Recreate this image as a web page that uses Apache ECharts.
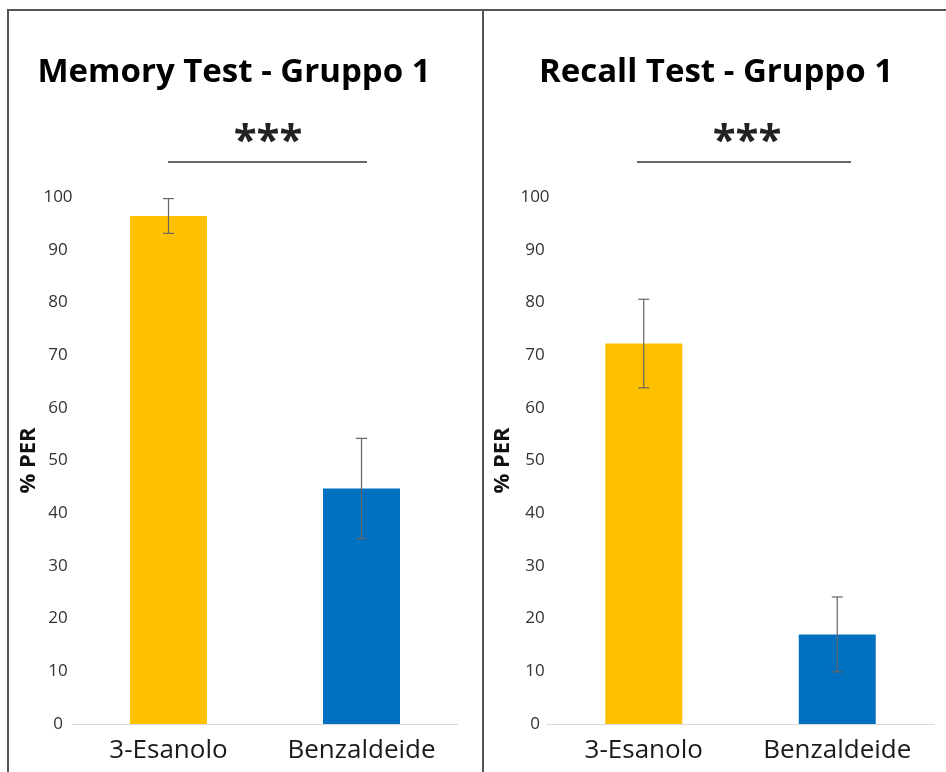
<!DOCTYPE html>
<html>
<head>
<meta charset="utf-8">
<script src="https://cdn.jsdelivr.net/npm/echarts@6/dist/echarts.min.js"></script>
<style>
  html, body { margin: 0; padding: 0; background: #fff; }
  #chart { width: 946px; height: 772px; }
</style>
</head>
<body>
<div id="chart"></div>
<script>
// Odour categories shared by both panels
const categories = ['3-Esanolo', 'Benzaldeide'];
const barColors = ['#FFC000', '#0070C0'];

// Memory test: mean % PER and error
const memoryMeans = [96.4, 44.7];
const memoryErrors = [3.3, 9.5];

// Recall test: mean % PER and error
const recallMeans = [72.2, 17.0];
const recallErrors = [8.4, 7.1];

const yTicks = { min: 0, max: 100, interval: 10 };

const panelTitles = ['Memory Test - Gruppo 1', 'Recall Test - Gruppo 1'];
const significance = ['***', '***'];

const FONT = '"Open Sans", "Noto Sans", sans-serif';

const chart = echarts.init(document.getElementById('chart'), null, { renderer: 'canvas' });

function makeYAxis(gridIndex, margin, nameGap) {
  return {
    type: 'value', gridIndex,
    min: yTicks.min, max: yTicks.max, interval: yTicks.interval,
    name: '% PER', nameLocation: 'middle', nameRotate: 90, nameGap,
    nameTextStyle: { fontFamily: FONT, fontWeight: 'bold', fontSize: 22, color: '#111' },
    axisLine: { show: false }, axisTick: { show: false }, splitLine: { show: false },
    axisLabel: { fontFamily: FONT, fontSize: 17, color: '#333', align: 'center', margin }
  };
}

function makeXAxis(gridIndex) {
  return {
    type: 'category', gridIndex, data: categories,
    axisLine: { lineStyle: { color: '#D9D9D9', width: 1 } },
    axisTick: { show: false },
    axisLabel: { fontFamily: FONT, fontSize: 26, color: '#1a1a1a', margin: 14 }
  };
}

function barSeries(idx, values) {
  return {
    type: 'bar', xAxisIndex: idx, yAxisIndex: idx, barWidth: 77,
    data: values.map((v, i) => ({ value: v, itemStyle: { color: barColors[i] } })),
    z: 2
  };
}

// Error bars: vertical whisker with horizontal caps at mean ± error
function errorSeries(idx, means, errs) {
  return {
    type: 'custom', xAxisIndex: idx, yAxisIndex: idx, z: 5,
    data: means.map((m, i) => [i, m - errs[i], m + errs[i]]),
    renderItem: function (params, api) {
      const lo = api.coord([api.value(0), api.value(1)]);
      const hi = api.coord([api.value(0), api.value(2)]);
      const half = 5.5;
      const style = { stroke: '#666', lineWidth: 1.2 };
      return {
        type: 'group',
        children: [
          { type: 'line', shape: { x1: lo[0], y1: lo[1], x2: hi[0], y2: hi[1] }, style },
          { type: 'line', shape: { x1: hi[0] - half, y1: hi[1], x2: hi[0] + half, y2: hi[1] }, style },
          { type: 'line', shape: { x1: lo[0] - half, y1: lo[1], x2: lo[0] + half, y2: lo[1] }, style }
        ]
      };
    }
  };
}

const titleCenters = [234, 716];
const sigCenters = [268, 747];
const sigLines = [[168, 367], [637, 851]];

const graphics = [];
// Frame lines around the two panels
graphics.push({ type: 'line', shape: { x1: 7, y1: 10, x2: 946, y2: 10 }, style: { stroke: '#555', lineWidth: 2 } });
graphics.push({ type: 'line', shape: { x1: 8, y1: 10, x2: 8, y2: 772 }, style: { stroke: '#555', lineWidth: 2 } });
graphics.push({ type: 'line', shape: { x1: 483, y1: 10, x2: 483, y2: 772 }, style: { stroke: '#555', lineWidth: 2 } });

for (let p = 0; p < 2; p++) {
  graphics.push({
    type: 'text', x: titleCenters[p], y: 73,
    style: { text: panelTitles[p], font: 'bold 33px ' + FONT, fill: '#000', textAlign: 'center', textVerticalAlign: 'middle' }
  });
  graphics.push({
    type: 'text', x: sigCenters[p], y: 142,
    style: { text: significance[p], font: 'bold 42px ' + FONT, fill: '#222', textAlign: 'center', textVerticalAlign: 'middle' }
  });
  graphics.push({
    type: 'line', shape: { x1: sigLines[p][0], y1: 162, x2: sigLines[p][1], y2: 162 },
    style: { stroke: '#333', lineWidth: 1.5 }
  });
}

chart.setOption({
  animation: false,
  backgroundColor: '#fff',
  grid: [
    { left: 72, width: 386, top: 197, height: 527 },
    { left: 547, width: 387, top: 197, height: 527 }
  ],
  xAxis: [makeXAxis(0), makeXAxis(1)],
  yAxis: [makeYAxis(0, 14, 32), makeYAxis(1, 12, 33)],
  series: [
    barSeries(0, memoryMeans),
    errorSeries(0, memoryMeans, memoryErrors),
    barSeries(1, recallMeans),
    errorSeries(1, recallMeans, recallErrors)
  ],
  graphic: graphics
});
</script>
</body>
</html>
